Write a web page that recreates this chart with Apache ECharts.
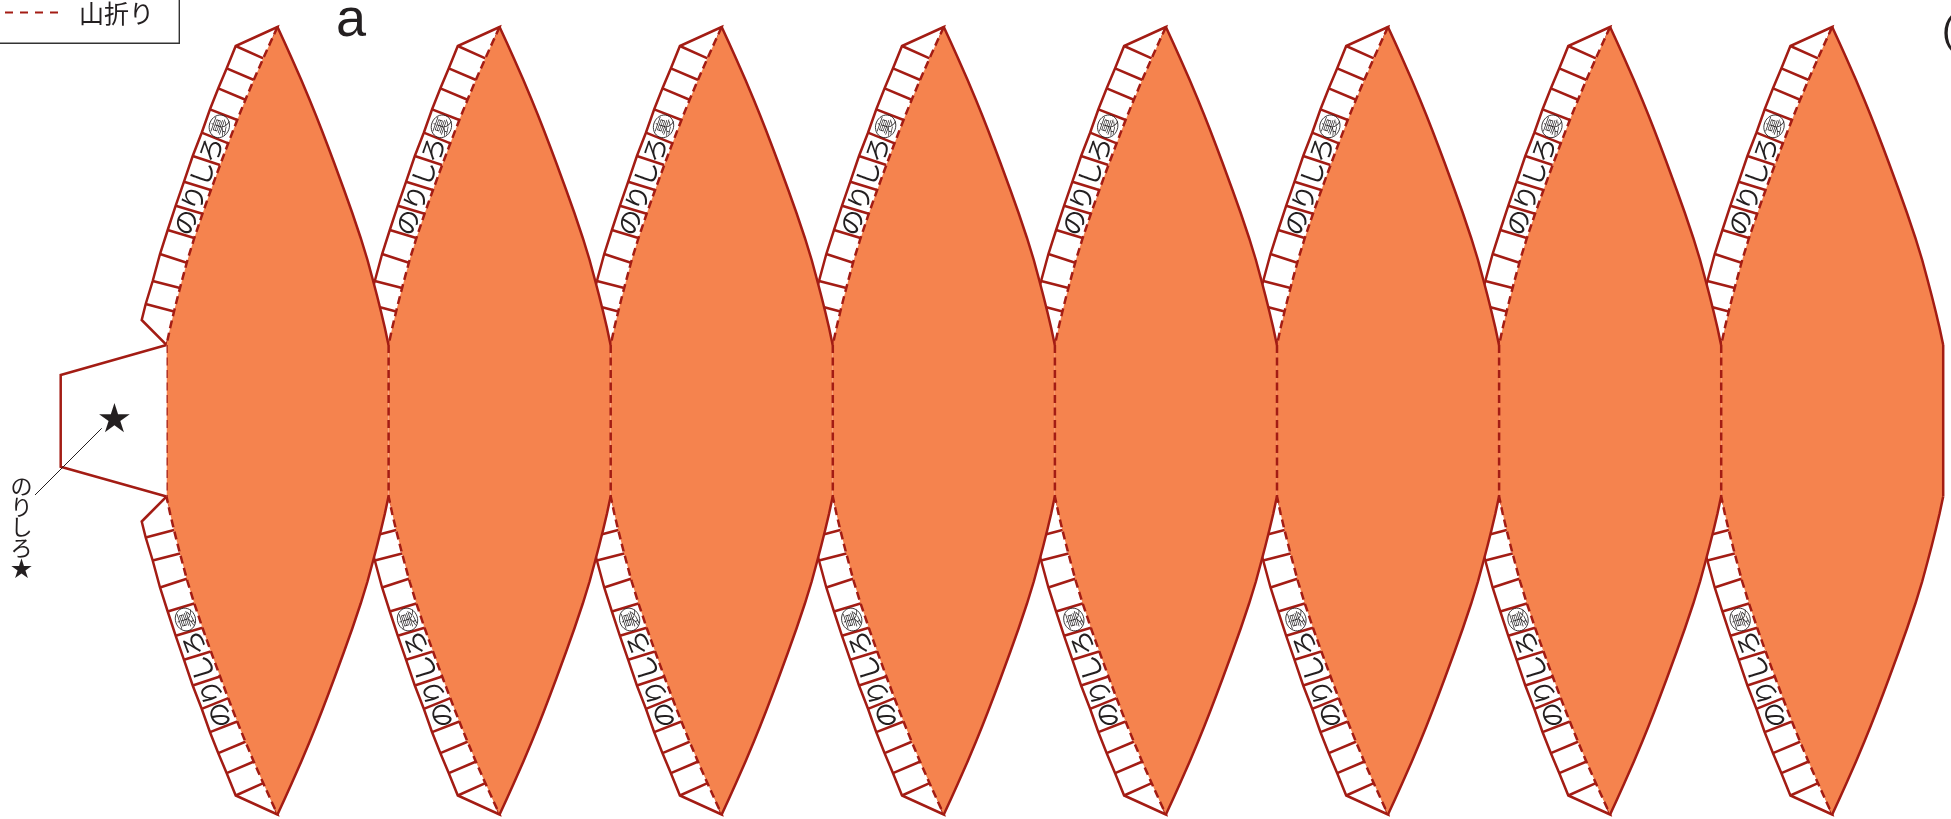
<!DOCTYPE html>
<html><head><meta charset="utf-8">
<style>html,body{margin:0;padding:0;background:#fff}#c{width:1951px;height:819px}</style>
<script src="https://cdn.jsdelivr.net/npm/echarts@6/dist/echarts.min.js"></script>
</head><body><div id="c"></div>
<script>
// ---- values (pixel-scale units of the figure) ----
const goreCentres = [277.5,499.6,721.7,943.8,1165.9,1388,1610.1,1832.2];
const midY = 420.75;
const goreY    = [27,42,58,80,100,115,130,147,163,190,213,238,260,280,296,312,328,345];
const goreHalf = [0,6.9,14.1,23.8,32.2,38.3,44.2,50.7,56.7,66.6,74.8,83.2,90,95.4,99.6,103.6,107.4,111];
const flapOuterX = [-41.8,-50.8,-59.2,-67.5,-75.8,-84.8,-93.5,-101.8,-109.8,-117.5,-124.8,-131.8];
const flapOuterY = [46,68.3,88.3,109.3,132.7,156,181.7,205.7,230,254,281,304];
const flapInnerX = [-14.2,-23.5,-31.5,-40.2,-49.2,-57.5,-66.8,-74.2,-82.5,-89.2,-96.5,-102.5];
const flapInnerY = [58.3,80,100,120,143.3,165,190,214,238.3,263.3,288.3,311.7];
const flapTail = [-135.8,320];
const topLabelChars = ['裏','ろ','し','り','の'];   // cells 3..7, upper flap
const botLabelChars = ['の','り','し','ろ','裏'];   // cells 3..7, lower flap
const firstCell = 3;
const tabX = [166.5,60.7,60.7,166.5];
const tabY = [345,375,466.7,496.5];
const leader = [[101.7,428.3],[35,495]];
const legendBox = [[-3,43.3],[179.3,43.3],[179.3,-3]];
const legendDash = [[5,12.5],[58,12.5]];
const legendText = '山折り';
const panelLetter = 'a';
const sideLabel = 'の\nり\nし\nろ\n★';
const cutLetter = '(';

const RED = '#A31C14', ORANGE = '#F5834E', INK = '#231F20';
const CJK = '"Noto Sans CJK JP"';
const LW = 2.5, DASH = [8,4.5];

function mirror(y){ return 2*midY - y; }
function rightTop(c){ return goreY.map((y,i)=>[c+goreHalf[i],y]); }
function leftTop(c){ return goreY.map((y,i)=>[c-goreHalf[i],y]); }
function toBottom(pts){ return pts.map(p=>[p[0],mirror(p[1])]).reverse(); }

function flapOutline(c,flip){
  const f = flip ? mirror : (y=>y);
  const pts = [[c,f(goreY[0])]];
  flapOuterX.forEach((x,i)=>pts.push([c+x,f(flapOuterY[i])]));
  pts.push([c+flapTail[0],f(flapTail[1])]);
  pts.push([c-goreHalf[goreHalf.length-1],f(goreY[goreY.length-1])]);
  return pts;
}
function poly(api,pts,style,closed){
  return {type:closed?'polygon':'polyline',shape:{points:pts.map(p=>api.coord(p))},style};
}
const stroke = (dash,color,w)=>({fill:null,stroke:color||RED,lineWidth:w||LW,lineDash:dash||null,lineJoin:'miter',miterLimit:10});

function renderFlaps(params,api){
  const c = api.value(0), children=[];
  [false,true].forEach(flip=>{
    const f = flip ? mirror : (y=>y);
    children.push(poly(api,flapOutline(c,flip),{fill:'#fff',stroke:RED,lineWidth:LW},true));
    flapOuterX.forEach((x,i)=>{
      children.push(poly(api,[[c+x,f(flapOuterY[i])],[c+flapInnerX[i],f(flapInnerY[i])]],stroke()));
    });
    const chars = flip?botLabelChars:topLabelChars;
    chars.forEach((ch,k)=>{
      const i = firstCell+k;
      const mx=(flapOuterX[i]+flapOuterX[i+1]+flapInnerX[i]+flapInnerX[i+1])/4;
      const my=(flapOuterY[i]+flapOuterY[i+1]+flapInnerY[i]+flapInnerY[i+1])/4;
      const a=Math.atan2(flapOuterY[i]-flapOuterY[i+1],flapOuterX[i]-flapOuterX[i+1]);
      const rot=flip?Math.PI-Math.abs(a):Math.abs(a);
      const p=api.coord([c+mx,f(my)]);
      const isBack=ch==='裏';
      if(isBack) children.push({type:'ellipse',shape:{cx:0,cy:0,rx:11.5,ry:10},x:p[0],y:p[1],rotation:rot,style:{fill:null,stroke:INK,lineWidth:0.8}});
      children.push({type:'text',x:p[0],y:p[1],rotation:rot,style:{text:ch,fontFamily:CJK,fontWeight:isBack?300:400,fontSize:isBack?18:25.5,fill:INK,align:'center',verticalAlign:'middle'}});
    });
  });
  return {type:'group',children};
}
function renderFill(params,api){
  const c=api.value(0);
  const pts=rightTop(c).concat(toBottom(rightTop(c)),toBottom(leftTop(c)).reverse(),leftTop(c).reverse());
  return poly(api,pts,{fill:ORANGE,stroke:null},true);
}
function renderEdges(params,api){
  const c=api.value(0), i=params.dataIndex;
  const children=[
    poly(api,rightTop(c),stroke()),
    poly(api,toBottom(rightTop(c)),stroke()),
    poly(api,leftTop(c).concat(toBottom(leftTop(c))),stroke(DASH))
  ];
  if(i===goreCentres.length-1){
    children.push(poly(api,[[c+goreHalf[goreHalf.length-1],goreY[goreY.length-1]],[c+goreHalf[goreHalf.length-1],mirror(goreY[goreY.length-1])]],stroke()));
  }
  return {type:'group',children};
}
function renderDecor(params,api){
  const txt=(x,y,text,font,size,extra)=>{const p=api.coord([x,y]);return {type:'text',x:p[0],y:p[1],style:Object.assign({text,fontFamily:font,fontSize:size,fill:INK,align:'left',verticalAlign:'middle'},extra||{})};};
  return {type:'group',children:[
    poly(api,tabX.map((x,i)=>[x,tabY[i]]),{fill:'#fff',stroke:RED,lineWidth:LW},false),
    poly(api,leader,stroke(null,INK,1)),
    poly(api,legendBox,stroke(null,'#333',1.4)),
    poly(api,legendDash,stroke([8,7],RED,2)),
    txt(79,13,legendText,CJK,25),
    txt(336,21,panelLetter,'"Liberation Sans"',54),
    txt(1942,33,cutLetter,'"Liberation Sans"',38),
    txt(114.5,422,'★','"DejaVu Sans"',40,{align:'center'}),
    txt(21.5,527,sideLabel,CJK,22,{align:'center',lineHeight:20.5})
  ]};
}
const goreData = goreCentres.map(c=>[c]);
const layer=(name,renderItem,data,z)=>({type:'custom',name,renderItem,data,z,silent:true,clip:false,coordinateSystem:'cartesian2d',encode:{x:0}});
echarts.init(document.getElementById('c'),null,{renderer:'canvas'}).setOption({
  animation:false,
  backgroundColor:'#fff',
  grid:{left:0,right:0,top:0,bottom:0},
  xAxis:{type:'value',min:0,max:1951,show:false},
  yAxis:{type:'value',min:0,max:819,inverse:true,show:false},
  series:[
    layer('flaps',renderFlaps,goreData,1),
    layer('gores',renderFill,goreData,2),
    layer('edges',renderEdges,goreData,3),
    layer('decor',renderDecor,[[0]],4)
  ]
});
</script></body></html>
